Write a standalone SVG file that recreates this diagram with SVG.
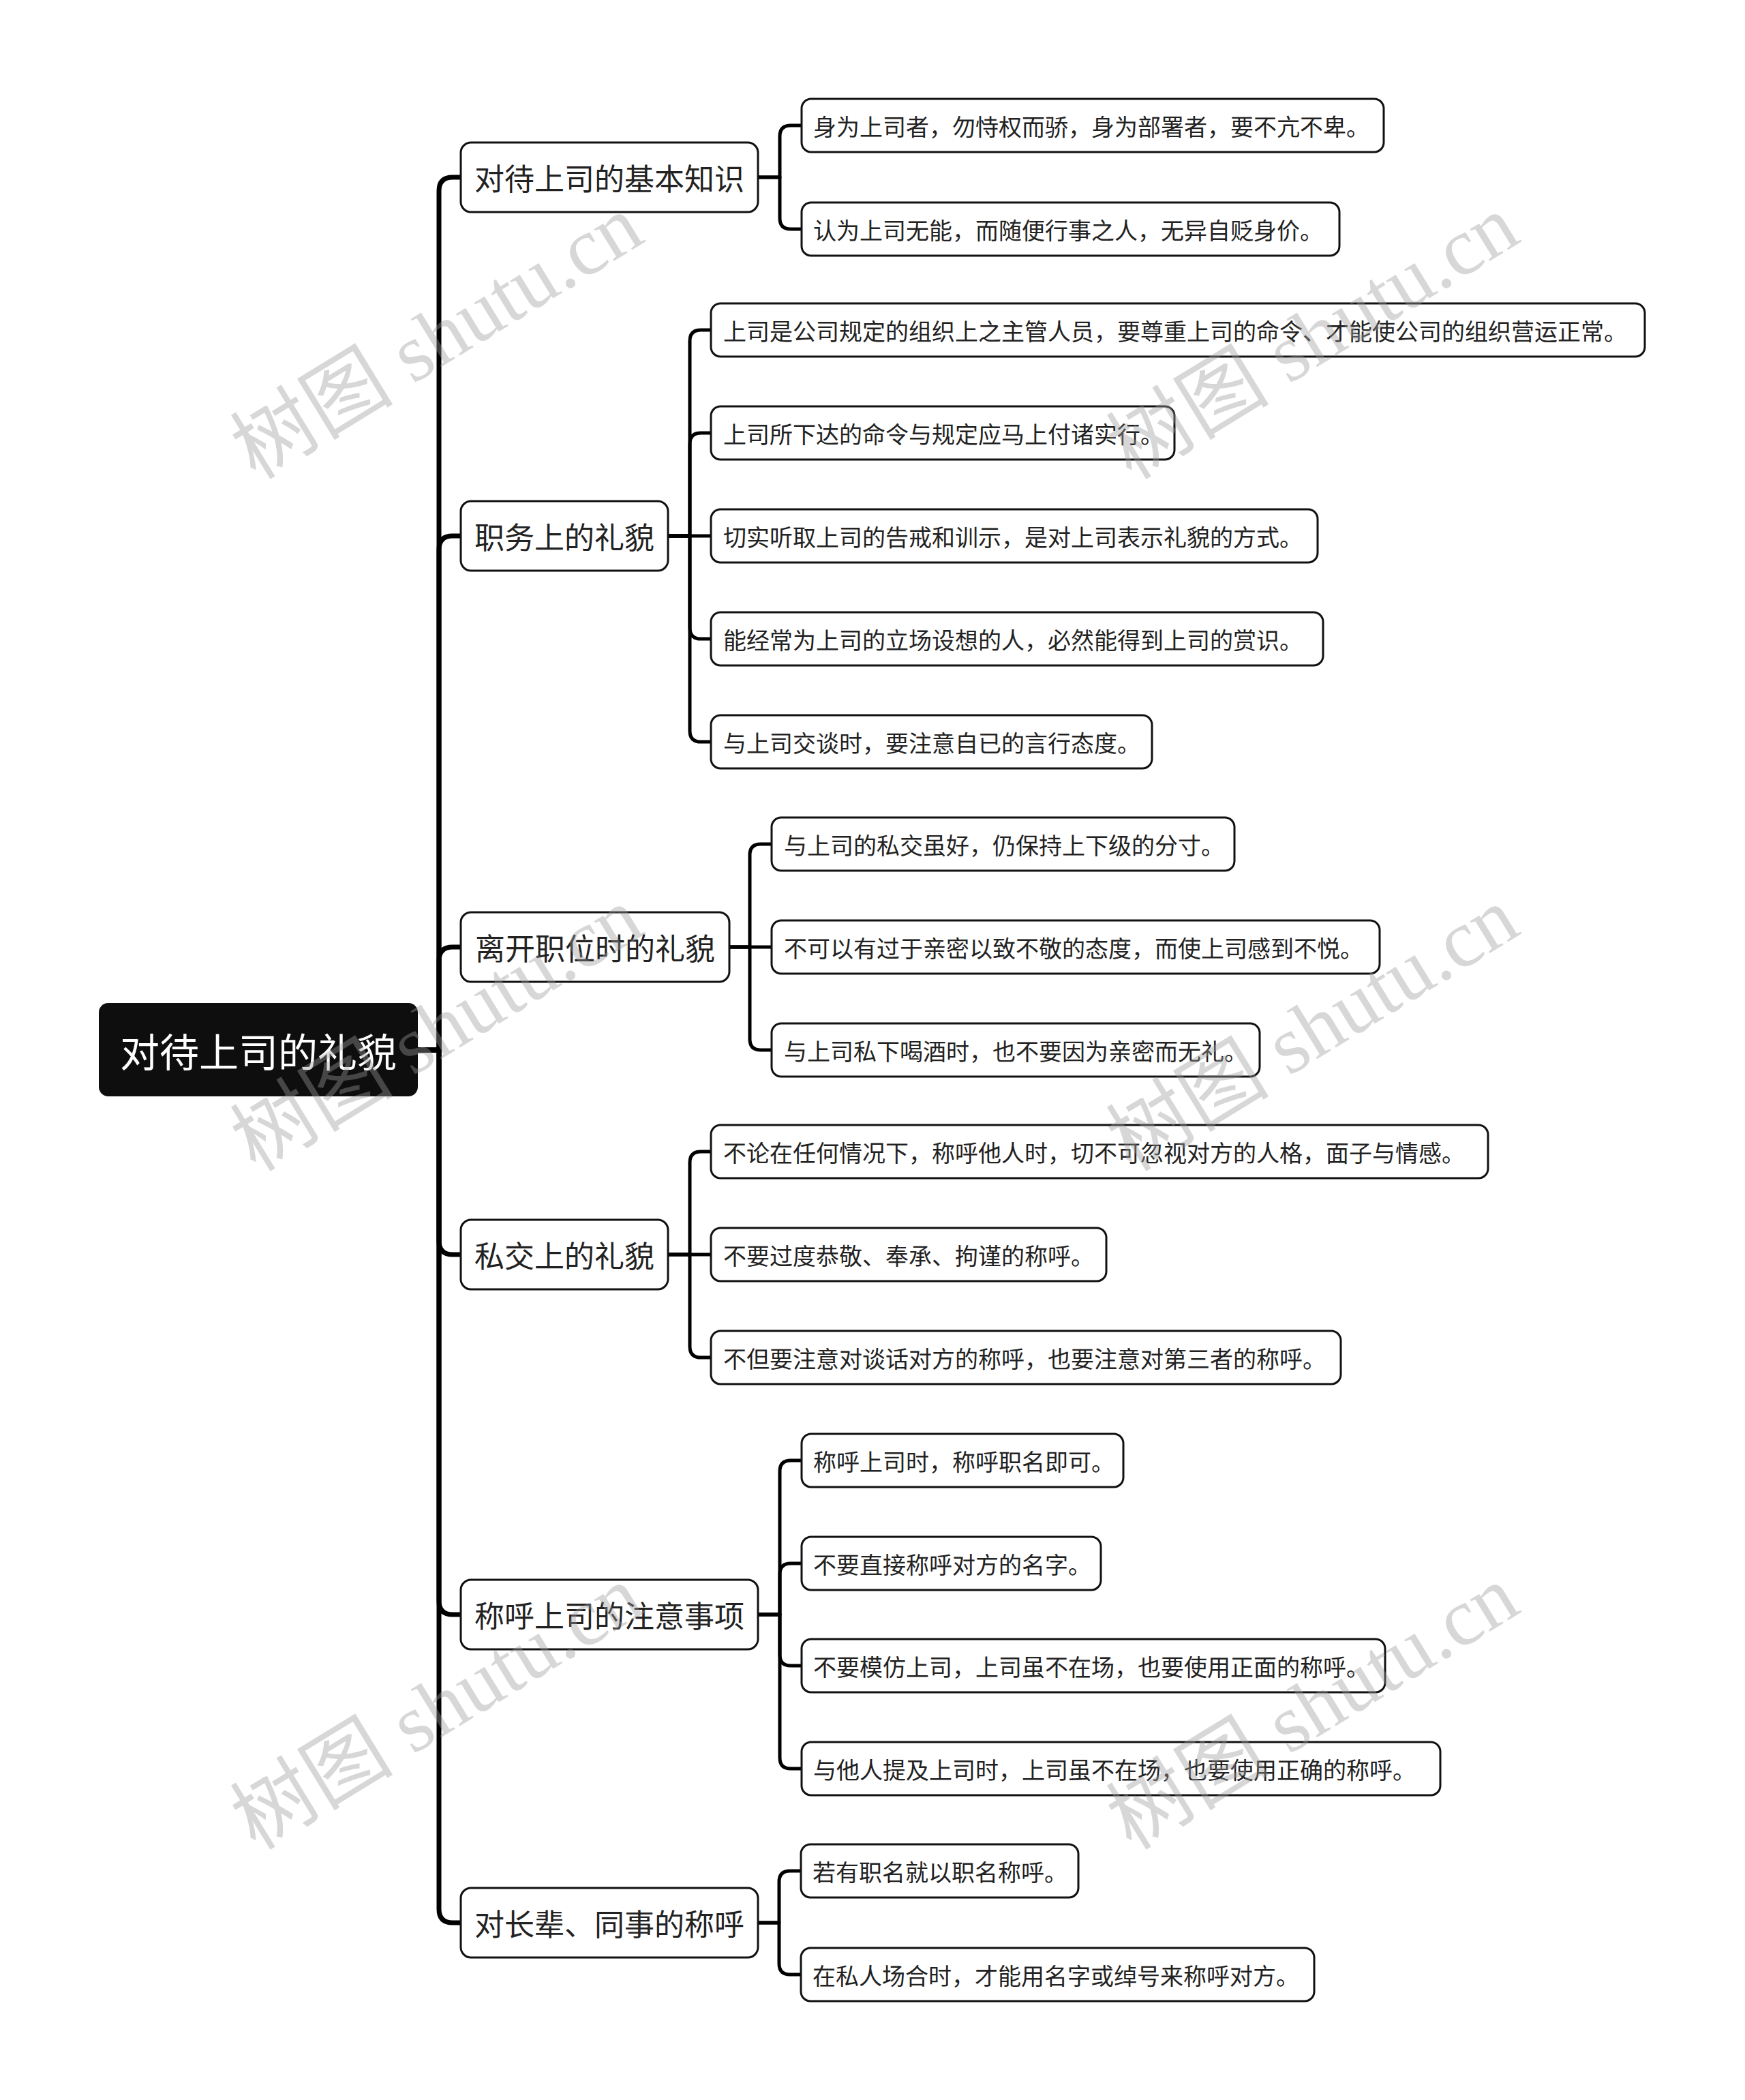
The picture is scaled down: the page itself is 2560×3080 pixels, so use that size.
<svg xmlns="http://www.w3.org/2000/svg" width="2560" height="3080" viewBox="0 0 2560 3080">
<style>
.bg{fill:#ffffff}
.root rect{fill:#0e0e0e;stroke:none}
.root text{fill:#ffffff;font-family:"Noto Sans CJK SC","Noto Sans",sans-serif;font-size:58px;text-anchor:middle;dominant-baseline:central}
.l1 rect{fill:#ffffff;stroke:#111;stroke-width:3}
.l1 text{fill:#222;font-family:"Noto Sans CJK SC","Noto Sans",sans-serif;font-size:44px;text-anchor:middle;dominant-baseline:central}
.l2 rect{fill:#ffffff;stroke:#111;stroke-width:3}
.l2 text{fill:#222;font-family:"Noto Sans CJK SC","Noto Sans",sans-serif;font-size:34px;dominant-baseline:central}
.main{fill:none;stroke:#000;stroke-width:7;stroke-linejoin:round}
.sub{fill:none;stroke:#000;stroke-width:5;stroke-linejoin:round}
.wm{fill:#9a9a9a;fill-opacity:0.4;font-family:"Liberation Serif","Noto Sans CJK SC",serif;font-size:120px}
</style>
<rect class="bg" x="0" y="0" width="2560" height="3080"/>
<g id="connectors">
<path class="main" d="M613,1540 H644 V280 Q644,260 664,260 H676"/>
<path class="main" d="M613,1540 H644 V806 Q644,786 664,786 H676"/>
<path class="main" d="M613,1540 H644 V1409 Q644,1389 664,1389 H676"/>
<path class="main" d="M613,1540 H644 V1820 Q644,1840 664,1840 H676"/>
<path class="main" d="M613,1540 H644 V2348 Q644,2368 664,2368 H676"/>
<path class="main" d="M613,1540 H644 V2800 Q644,2820 664,2820 H676"/>
<path class="sub" d="M1112,260 H1144 V200 Q1144,184 1160,184 H1176"/>
<path class="sub" d="M1112,260 H1144 V320 Q1144,336 1160,336 H1176"/>
<path class="sub" d="M980,786 H1012 V500 Q1012,484 1028,484 H1043"/>
<path class="sub" d="M980,786 H1012 V651 Q1012,635 1028,635 H1043"/>
<path class="sub" d="M980,786 H1043"/>
<path class="sub" d="M980,786 H1012 V921 Q1012,937 1028,937 H1043"/>
<path class="sub" d="M980,786 H1012 V1072 Q1012,1088 1028,1088 H1043"/>
<path class="sub" d="M1070,1389 H1100 V1254 Q1100,1238 1116,1238 H1132"/>
<path class="sub" d="M1070,1389 H1132"/>
<path class="sub" d="M1070,1389 H1100 V1524 Q1100,1540 1116,1540 H1132"/>
<path class="sub" d="M980,1840 H1012 V1705 Q1012,1689 1028,1689 H1043"/>
<path class="sub" d="M980,1840 H1043"/>
<path class="sub" d="M980,1840 H1012 V1975 Q1012,1991 1028,1991 H1043"/>
<path class="sub" d="M1112,2368 H1144 V2158 Q1144,2142 1160,2142 H1176"/>
<path class="sub" d="M1112,2368 H1144 V2309 Q1144,2293 1160,2293 H1176"/>
<path class="sub" d="M1112,2368 H1144 V2427 Q1144,2443 1160,2443 H1176"/>
<path class="sub" d="M1112,2368 H1144 V2578 Q1144,2594 1160,2594 H1176"/>
<path class="sub" d="M1112,2820 H1143 V2760 Q1143,2744 1159,2744 H1175"/>
<path class="sub" d="M1112,2820 H1143 V2880 Q1143,2896 1159,2896 H1175"/>
</g>
<g id="root" class="root"><rect x="145" y="1471" width="468" height="137" rx="14"/><text x="379" y="1540">对待上司的礼貌</text></g>
<g id="n1" class="l1"><rect x="676" y="209" width="436" height="102" rx="15"/><text x="894" y="260">对待上司的基本知识</text></g>
<g id="n2" class="l1"><rect x="676" y="735" width="304" height="102" rx="15"/><text x="828" y="786">职务上的礼貌</text></g>
<g id="n3" class="l1"><rect x="676" y="1338" width="394" height="102" rx="15"/><text x="873" y="1389">离开职位时的礼貌</text></g>
<g id="n4" class="l1"><rect x="676" y="1789" width="304" height="102" rx="15"/><text x="828" y="1840">私交上的礼貌</text></g>
<g id="n5" class="l1"><rect x="676" y="2317" width="436" height="102" rx="15"/><text x="894" y="2368">称呼上司的注意事项</text></g>
<g id="n6" class="l1"><rect x="676" y="2769" width="436" height="102" rx="15"/><text x="894" y="2820">对长辈、同事的称呼</text></g>
<g id="n1a" class="l2"><rect x="1176" y="145" width="854" height="78" rx="14"/><text x="1193" y="184">身为上司者，勿恃权而骄，身为部署者，要不亢不卑。</text></g>
<g id="n1b" class="l2"><rect x="1176" y="297" width="789" height="78" rx="14"/><text x="1193" y="336">认为上司无能，而随便行事之人，无异自贬身价。</text></g>
<g id="n2a" class="l2"><rect x="1043" y="445" width="1370" height="78" rx="14"/><text x="1061" y="484">上司是公司规定的组织上之主管人员，要尊重上司的命令、才能使公司的组织营运正常。</text></g>
<g id="n2b" class="l2"><rect x="1043" y="596" width="680" height="78" rx="14"/><text x="1061" y="635">上司所下达的命令与规定应马上付诸实行。</text></g>
<g id="n2c" class="l2"><rect x="1043" y="747" width="890" height="78" rx="14"/><text x="1061" y="786">切实听取上司的告戒和训示，是对上司表示礼貌的方式。</text></g>
<g id="n2d" class="l2"><rect x="1043" y="898" width="898" height="78" rx="14"/><text x="1061" y="937">能经常为上司的立场设想的人，必然能得到上司的赏识。</text></g>
<g id="n2e" class="l2"><rect x="1043" y="1049" width="647" height="78" rx="14"/><text x="1061" y="1088">与上司交谈时，要注意自已的言行态度。</text></g>
<g id="n3a" class="l2"><rect x="1132" y="1199" width="679" height="78" rx="14"/><text x="1150" y="1238">与上司的私交虽好，仍保持上下级的分寸。</text></g>
<g id="n3b" class="l2"><rect x="1132" y="1350" width="892" height="78" rx="14"/><text x="1150" y="1389">不可以有过于亲密以致不敬的态度，而使上司感到不悦。</text></g>
<g id="n3c" class="l2"><rect x="1132" y="1501" width="716" height="78" rx="14"/><text x="1150" y="1540">与上司私下喝酒时，也不要因为亲密而无礼。</text></g>
<g id="n4a" class="l2"><rect x="1043" y="1650" width="1140" height="78" rx="14"/><text x="1061" y="1689">不论在任何情况下，称呼他人时，切不可忽视对方的人格，面子与情感。</text></g>
<g id="n4b" class="l2"><rect x="1043" y="1801" width="580" height="78" rx="14"/><text x="1061" y="1840">不要过度恭敬、奉承、拘谨的称呼。</text></g>
<g id="n4c" class="l2"><rect x="1043" y="1952" width="924" height="78" rx="14"/><text x="1061" y="1991">不但要注意对谈话对方的称呼，也要注意对第三者的称呼。</text></g>
<g id="n5a" class="l2"><rect x="1176" y="2103" width="472" height="78" rx="14"/><text x="1193" y="2142">称呼上司时，称呼职名即可。</text></g>
<g id="n5b" class="l2"><rect x="1176" y="2254" width="439" height="78" rx="14"/><text x="1193" y="2293">不要直接称呼对方的名字。</text></g>
<g id="n5c" class="l2"><rect x="1176" y="2404" width="856" height="78" rx="14"/><text x="1193" y="2443">不要模仿上司，上司虽不在场，也要使用正面的称呼。</text></g>
<g id="n5d" class="l2"><rect x="1176" y="2555" width="937" height="78" rx="14"/><text x="1193" y="2594">与他人提及上司时，上司虽不在场，也要使用正确的称呼。</text></g>
<g id="n6a" class="l2"><rect x="1175" y="2705" width="407" height="78" rx="14"/><text x="1192" y="2744">若有职名就以职名称呼。</text></g>
<g id="n6b" class="l2"><rect x="1175" y="2857" width="753" height="78" rx="14"/><text x="1192" y="2896">在私人场合时，才能用名字或绰号来称呼对方。</text></g>
<g id="watermarks">
<text class="wm" transform="translate(375,705) rotate(-31.5)">树图 shutu.cn</text>
<text class="wm" transform="translate(1660,705) rotate(-31.5)">树图 shutu.cn</text>
<text class="wm" transform="translate(375,1720) rotate(-31.5)">树图 shutu.cn</text>
<text class="wm" transform="translate(1660,1720) rotate(-31.5)">树图 shutu.cn</text>
<text class="wm" transform="translate(375,2715) rotate(-31.5)">树图 shutu.cn</text>
<text class="wm" transform="translate(1660,2715) rotate(-31.5)">树图 shutu.cn</text>
</g>
</svg>
